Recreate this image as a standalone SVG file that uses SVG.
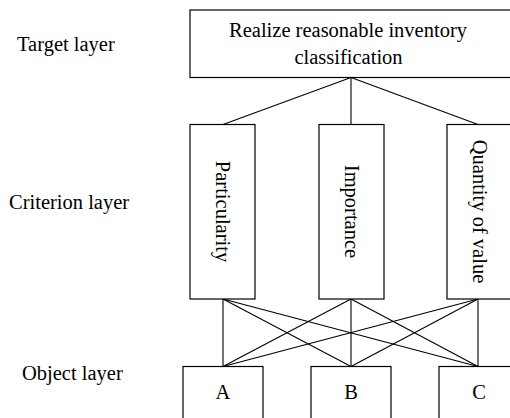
<svg xmlns="http://www.w3.org/2000/svg" width="510" height="418" viewBox="0 0 510 418">
<style>
.box{fill:#fff;stroke:#000;stroke-width:1.2}
.t{font-family:"Liberation Serif","Times New Roman",serif;font-size:20.5px;fill:#000}
.c{text-anchor:middle}
.conn line{stroke:#000;stroke-width:1.1}
</style>
<rect width="510" height="418" fill="#fff"/>
<g id="labels">
<text class="t" x="17" y="51">Target layer</text>
<text class="t" x="9" y="209">Criterion layer</text>
<text class="t" x="22" y="380">Object layer</text>
</g>
<g class="conn" id="connectors">
<line x1="351" y1="77.5" x2="223" y2="124.5"/>
<line x1="351" y1="77.5" x2="351" y2="124.5"/>
<line x1="351" y1="77.5" x2="478" y2="124.5"/>
<line x1="223" y1="299" x2="223" y2="366.5"/>
<line x1="223" y1="299" x2="351" y2="366.5"/>
<line x1="223" y1="299" x2="478" y2="366.5"/>
<line x1="351" y1="299" x2="223" y2="366.5"/>
<line x1="351" y1="299" x2="351" y2="366.5"/>
<line x1="351" y1="299" x2="478" y2="366.5"/>
<line x1="478" y1="299" x2="223" y2="366.5"/>
<line x1="478" y1="299" x2="351" y2="366.5"/>
<line x1="478" y1="299" x2="478" y2="366.5"/>
</g>
<g id="target">
<rect class="box" x="190" y="10" width="322" height="67.5"/>
<text class="t c" x="348" y="37">Realize reasonable inventory</text>
<text class="t c" x="348.5" y="63.5">classification</text>
</g>
<g id="particularity">
<rect class="box" x="190" y="124.5" width="65" height="174.5"/>
<text class="t c" transform="translate(222.5,211.5) rotate(90)" dy="0.33em">Particularity</text>
</g>
<g id="importance">
<rect class="box" x="319" y="124.5" width="65" height="174.5"/>
<text class="t c" transform="translate(351.5,211.5) rotate(90)" dy="0.33em">Importance</text>
</g>
<g id="quantity">
<rect class="box" x="447" y="124.5" width="65" height="174.5"/>
<text class="t c" transform="translate(479.5,211.5) rotate(90)" dy="0.33em">Quantity of value</text>
</g>
<g id="objA">
<rect class="box" x="183" y="366.5" width="80" height="60"/>
<text class="t c" x="223" y="399">A</text>
</g>
<g id="objB">
<rect class="box" x="311" y="366.5" width="80" height="60"/>
<text class="t c" x="351" y="399">B</text>
</g>
<g id="objC">
<rect class="box" x="439" y="366.5" width="80" height="60"/>
<text class="t c" x="479" y="399">C</text>
</g>
</svg>
